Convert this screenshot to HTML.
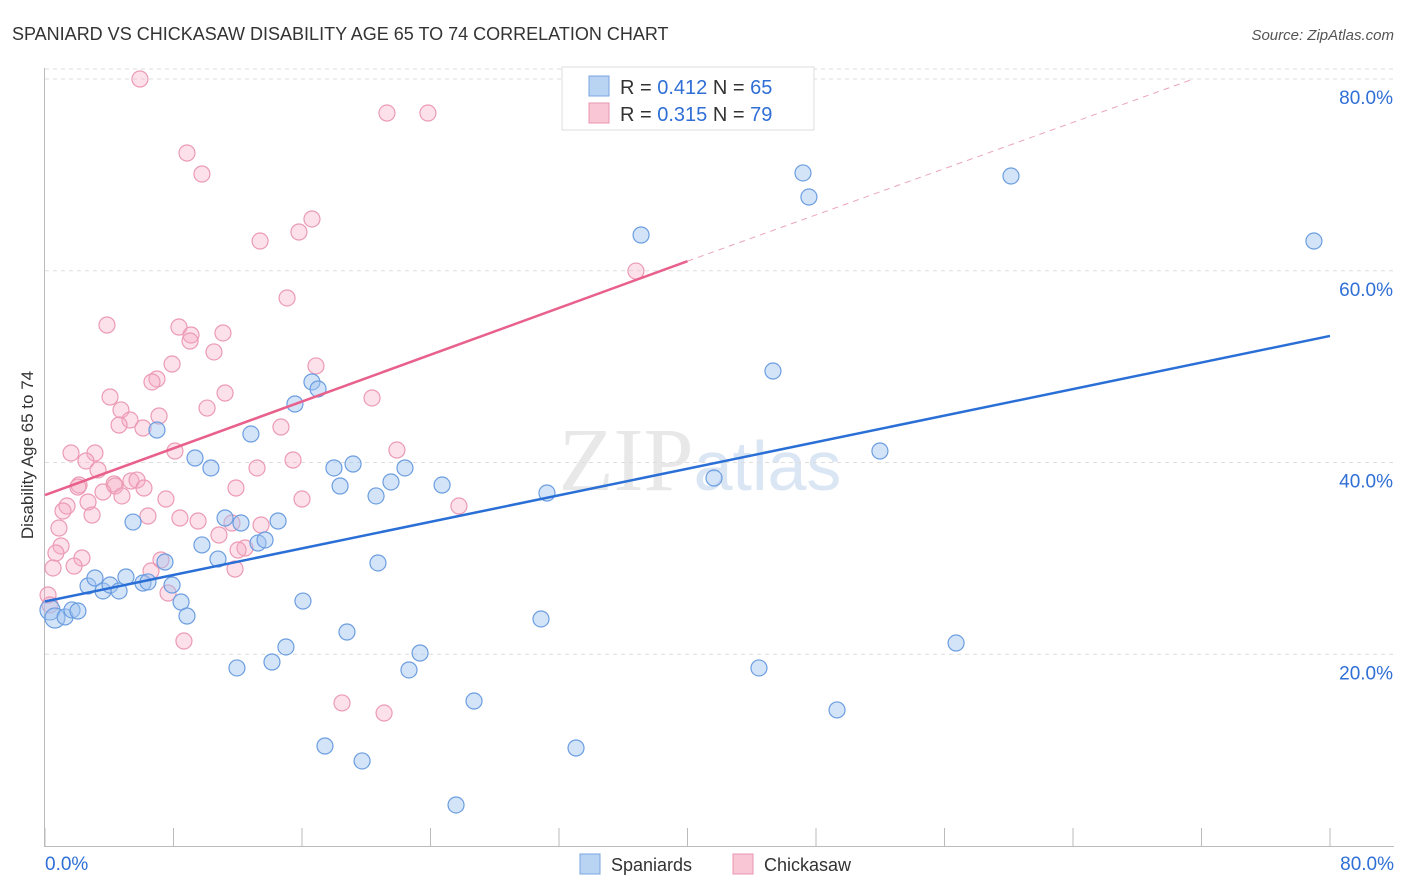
<!DOCTYPE html>
<html><head><meta charset="utf-8"><style>
body{margin:0;background:#fff;font-family:"Liberation Sans",sans-serif;}
svg{display:block}
</style></head><body>
<svg id="chart" width="1406" height="892" xmlns="http://www.w3.org/2000/svg">
<text x="12" y="40" font-size="18" fill="#333">SPANIARD VS CHICKASAW DISABILITY AGE 65 TO 74 CORRELATION CHART</text>
<text x="1394" y="40" font-size="15" fill="#555" font-style="italic" text-anchor="end">Source: ZipAtlas.com</text>
<text x="700" y="490" font-size="90" fill="#e8e8e8" text-anchor="middle" font-family="Liberation Serif">ZIP<tspan fill="#dbe6f4" font-family="Liberation Sans" font-size="70">atlas</tspan></text>
<g id="grid"></g><g id="axes"></g><g id="pts"></g><g id="lines"></g>
<text transform="translate(33,455) rotate(-90)" font-size="17" fill="#333" text-anchor="middle">Disability Age 65 to 74</text>
<g>
<rect x="562" y="67" width="252" height="63" fill="#fff" stroke="#ddd"/>
<rect x="589" y="76" width="20" height="20" fill="#b9d3f3" stroke="#7aa6e0"/>
<rect x="589" y="103" width="20" height="20" fill="#f9c6d5" stroke="#e996b0"/>
<text x="620" y="94" font-size="20" fill="#333">R = <tspan fill="#2f6fd6">0.412</tspan>   N = <tspan fill="#2f6fd6">65</tspan></text>
<text x="620" y="121" font-size="20" fill="#333">R = <tspan fill="#2f6fd6">0.315</tspan>   N = <tspan fill="#2f6fd6">79</tspan></text>
</g>
<g>
<rect x="580" y="854" width="20" height="20" fill="#b9d3f3" stroke="#7aa6e0"/>
<text x="611" y="871" font-size="18" fill="#333">Spaniards</text>
<rect x="733" y="854" width="20" height="20" fill="#f9c6d5" stroke="#e996b0"/>
<text x="764" y="871" font-size="18" fill="#333">Chickasaw</text>
</g>
</svg>
<script>
const xTicks=[0,8,16,24,32,40,48,56,64,72,80];
const yTicks=[20,40,60,80];
const bluePx=[[50,610],[55,618],[65,617],[72,610],[78,611],[88,586],[95,578],[103,591],[110,585],[119,591],[126,577],[133,522],[143,583],[148,582],[157,430],[165,562],[172,585],[181,602],[187,616],[195,458],[202,545],[211,468],[218,559],[225,518],[237,668],[241,523],[251,434],[258,543],[265,540],[272,662],[278,521],[286,647],[295,404],[303,601],[312,382],[318,389],[325,746],[334,468],[340,486],[347,632],[353,464],[362,761],[376,496],[378,563],[391,482],[405,468],[409,670],[420,653],[442,485],[456,805],[474,701],[541,619],[547,493],[576,748],[641,235],[714,478],[759,668],[773,371],[803,173],[809,197],[837,710],[880,451],[956,643],[1011,176],[1314,241]];
const pinkPx=[[140,79],[187,153],[202,174],[260,241],[299,232],[312,219],[387,113],[428,113],[636,271],[287,298],[107,325],[179,327],[191,335],[190,341],[223,333],[214,352],[172,364],[316,366],[157,379],[152,382],[110,397],[225,393],[372,398],[207,408],[121,410],[159,416],[130,420],[119,425],[143,428],[281,427],[175,451],[71,453],[95,453],[397,450],[86,461],[293,460],[257,468],[98,470],[236,488],[79,485],[131,481],[137,480],[114,484],[115,486],[144,488],[103,492],[122,496],[166,499],[302,499],[88,502],[67,506],[459,506],[63,511],[92,515],[148,516],[180,518],[198,521],[232,523],[261,525],[59,528],[219,535],[245,548],[238,550],[61,546],[56,553],[82,558],[161,560],[74,566],[151,571],[53,568],[235,569],[168,593],[48,595],[50,605],[184,641],[342,703],[384,713],[78,487]];
// convert picture readings to data values (percent)
const blueX=bluePx.map(p=>+((p[0]-45)/16.0625).toFixed(2)), blueY=bluePx.map(p=>+((846-p[1])/9.5875).toFixed(2));
const pinkX=pinkPx.map(p=>+((p[0]-45)/16.0625).toFixed(2)), pinkY=pinkPx.map(p=>+((846-p[1])/9.5875).toFixed(2));
const blueTrend=[[0,25.5],[80,53.2]];
const pinkTrend=[[0,36.6],[40,61]];
const pinkTrendExt=[[40,61],[71.5,80]];
const X=v=>45+v*16.0625, Y=v=>846-v*9.5875;
const NS="http://www.w3.org/2000/svg";
function mk(t,a,p){const e=document.createElementNS(NS,t);for(const k in a)e.setAttribute(k,a[k]);p.appendChild(e);return e;}
const grid=document.getElementById('grid'),axes=document.getElementById('axes'),pts=document.getElementById('pts'),lines=document.getElementById('lines');
yTicks.forEach(v=>{const l=mk('line',{x1:45,x2:1394,y1:Y(v),y2:Y(v),stroke:'#ddd','stroke-dasharray':'4,4'},grid);


const t=mk('text',{x:1393,y:Y(v)+25,'font-size':19,fill:'#2f6fd6','text-anchor':'end'},grid);t.textContent=v.toFixed(1)+'%';

});
mk('line',{x1:45,x2:1394,y1:Y(80)-10,y2:Y(80)-10,stroke:'#ddd','stroke-dasharray':'4,4'},grid);
const ax=mk('line',{x1:44.5,x2:44.5,y1:68,y2:847,stroke:'#bbb'},axes);


const bx=mk('line',{x1:45,x2:1394,y1:846.5,y2:846.5,stroke:'#bbb'},axes);


xTicks.forEach(v=>{const l=mk('line',{x1:X(v),x2:X(v),y1:828,y2:847,stroke:'#bbb'},axes);

});
[[0,'start',45],[80,'end',1394]].forEach(d=>{const t=mk('text',{x:d[2],y:870,'font-size':19,fill:'#2f6fd6','text-anchor':d[1]},axes);t.textContent=d[0].toFixed(1)+'%';

});
function dots(xs,ys,fill,stroke,name){xs.forEach((x,i)=>{const r=(i<2&&name=='spaniard-point')?10:8;const c=mk('circle',{cx:X(x),cy:Y(ys[i]),r:r,fill:fill,stroke:stroke,'stroke-width':1.2},pts);

});}
dots(pinkX,pinkY,'rgba(246,170,195,0.35)','#ec9ab4','chickasaw-point');
dots(blueX,blueY,'rgba(160,195,240,0.45)','#6b9de0','spaniard-point');
function line(d,color,name,dash){const l=mk('line',{x1:X(d[0][0]),y1:Y(d[0][1]),x2:X(d[1][0]),y2:Y(d[1][1]),stroke:color,'stroke-width':dash?1:2.5},lines);if(dash)l.setAttribute('stroke-dasharray','6,5');

}
line(blueTrend,'#2a6fd6','spaniard-trendline');
line(pinkTrend,'#e8608c','chickasaw-trendline');
line(pinkTrendExt,'#eba5bb','chickasaw-trendline-extension',true);
</script>
</body></html>
